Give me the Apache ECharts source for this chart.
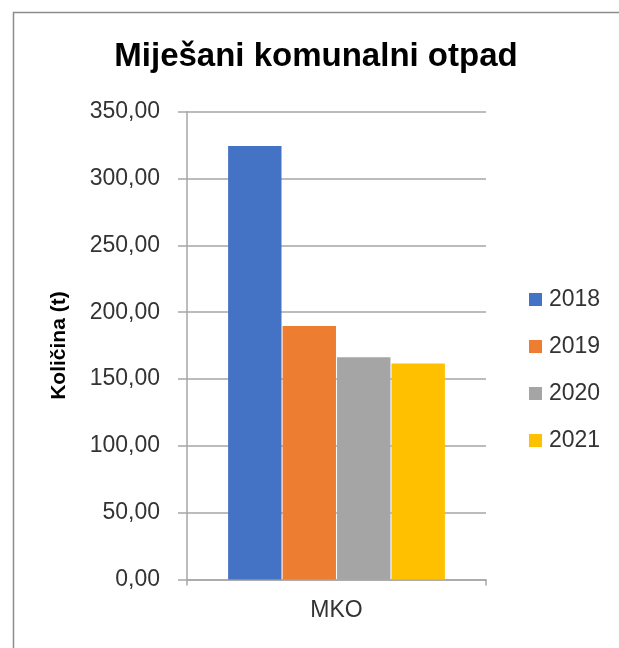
<!DOCTYPE html>
<html>
<head>
<meta charset="utf-8">
<script src="https://cdn.jsdelivr.net/npm/echarts@6/dist/echarts.min.js"></script>
<style>
html,body{margin:0;padding:0;background:#fff;}
#chart{width:619px;height:648px;}
</style>
</head>
<body>
<div id="chart"></div>
<script>
const categories = ['MKO'];
const seriesNames = ['2018', '2019', '2020', '2021'];
const values2018 = [324.3];
const values2019 = [189.7];
const values2020 = [166.2];
const values2021 = [161.7];
const colors = ['#4472C4', '#ED7D31', '#A5A5A5', '#FFC000'];
const seriesValues = [values2018, values2019, values2020, values2021];

const FONT = 'Liberation Sans';
const chart = echarts.init(document.getElementById('chart'));
chart.setOption({
  animation: false,
  backgroundColor: '#fff',
  textStyle: { fontFamily: FONT },
  graphic: [{
    type: 'rect',
    shape: { x: 13.5, y: 12.5, width: 800, height: 800 },
    style: { fill: 'none', stroke: '#8c8c8c', lineWidth: 1.5 },
    silent: true
  }],
  title: {
    text: 'Miješani komunalni otpad',
    left: 311, top: 35, textAlign: 'center',
    textStyle: { fontFamily: FONT, fontSize: 33, fontWeight: 'bold', color: '#000' }
  },
  legend: {
    orient: 'vertical',
    left: 524, top: 283,
    itemWidth: 13, itemHeight: 13, itemGap: 24,
    icon: 'rect',
    textStyle: { fontFamily: FONT, fontSize: 23, color: '#333', padding: [0, 0, 0, 2] },
    data: seriesNames
  },
  grid: { left: 187, right: 133, top: 111.7, bottom: 68.5, containLabel: false },
  xAxis: {
    type: 'category',
    data: categories,
    axisLine: { lineStyle: { color: '#a6a6a6', width: 1.5 } },
    axisTick: { show: true, length: 6, lineStyle: { color: '#a6a6a6', width: 1.5 } },
    axisLabel: { fontFamily: FONT, fontSize: 23, color: '#333', margin: 20 }
  },
  yAxis: {
    type: 'value',
    min: 0, max: 350, interval: 50,
    name: 'Količina (t)',
    nameLocation: 'middle',
    nameGap: 117,
    nameRotate: 90,
    nameTextStyle: { fontFamily: FONT, fontSize: 21, fontWeight: 'bold', color: '#000' },
    axisLine: { show: true, lineStyle: { color: '#a6a6a6', width: 1.5 } },
    axisTick: { show: true, length: 9, lineStyle: { color: '#a6a6a6', width: 1.5 } },
    splitLine: { lineStyle: { color: '#a6a6a6', width: 1.5 } },
    axisLabel: {
      fontFamily: FONT, fontSize: 23, color: '#333', margin: 27,
      formatter: v => v.toFixed(2).replace('.', ',')
    }
  },
  series: seriesNames.map((name, i) => ({
    name,
    type: 'bar',
    data: seriesValues[i],
    barCategoryGap: '27.5%',
    barGap: '2%',
    itemStyle: { color: colors[i], borderColor: '#fff', borderWidth: 0 }
  }))
});
</script>
</body>
</html>
